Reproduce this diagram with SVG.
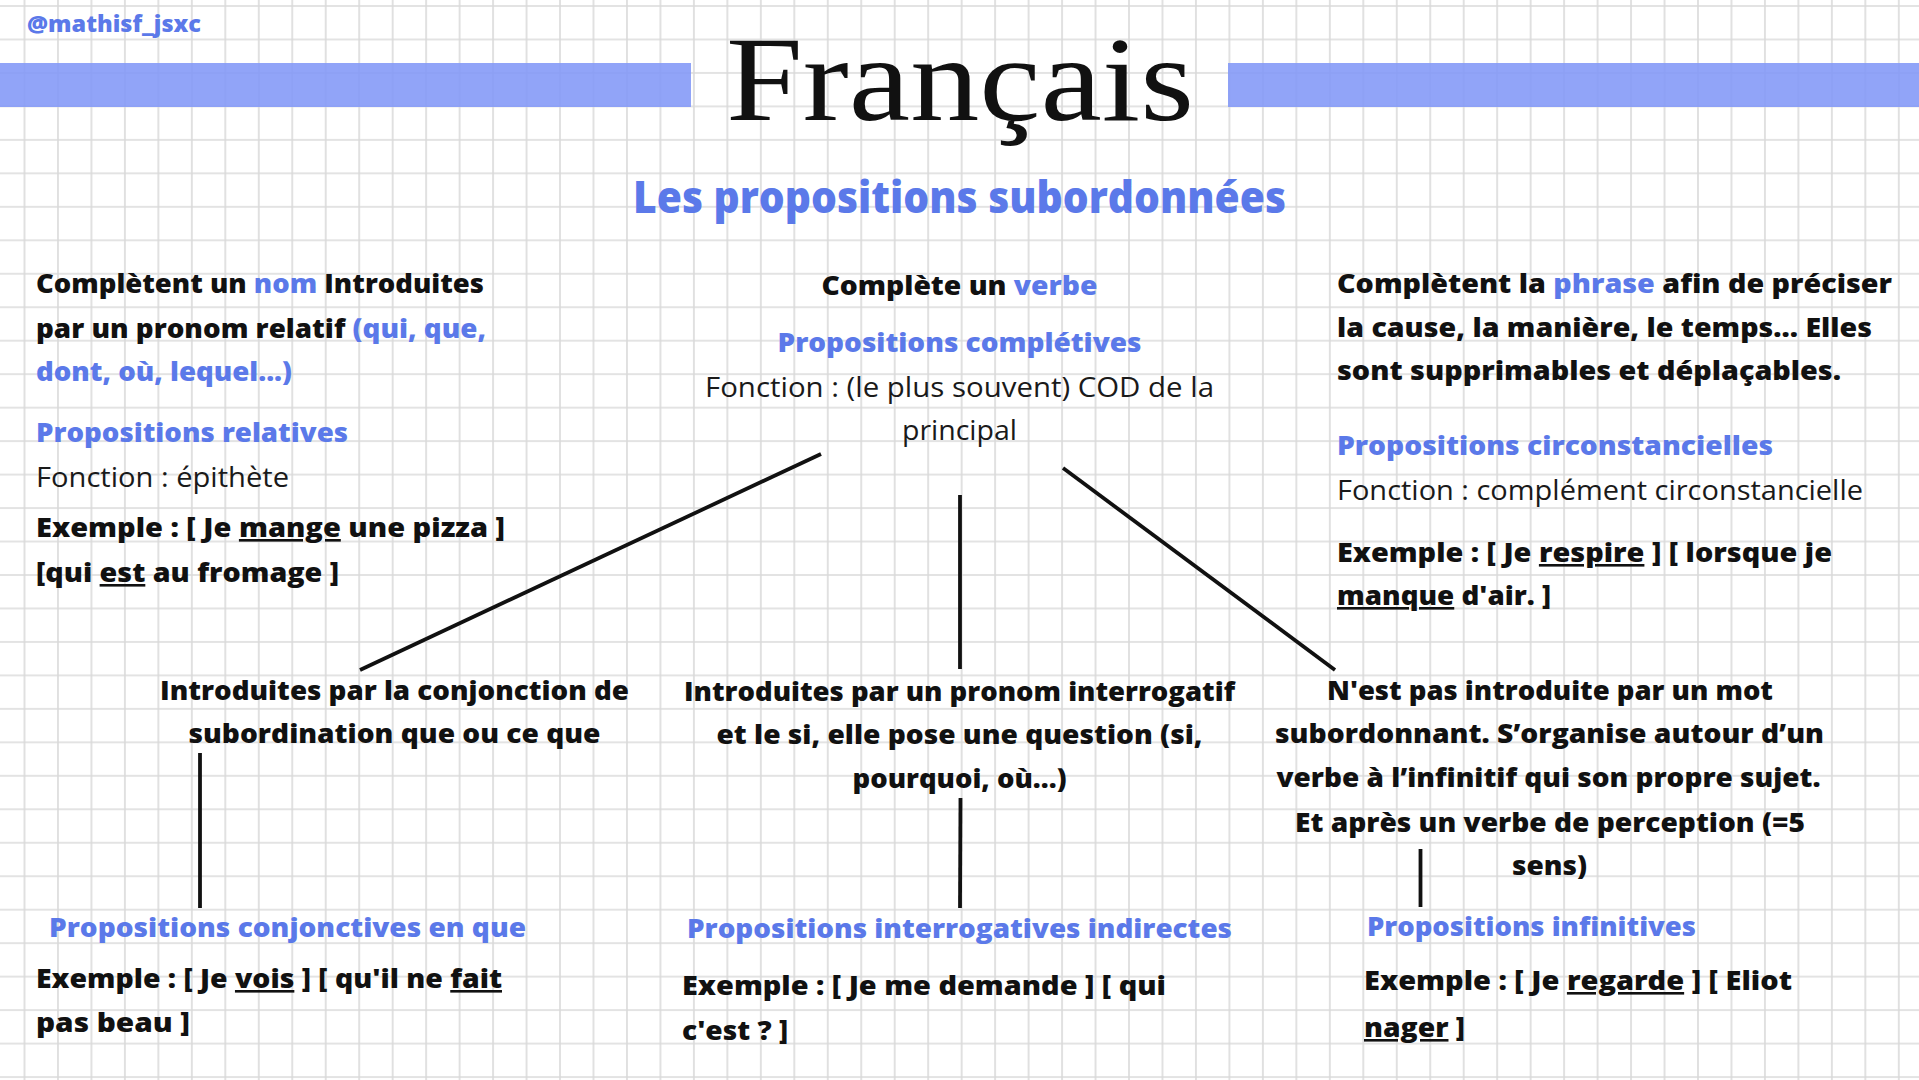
<svg xmlns="http://www.w3.org/2000/svg" width="1919" height="1080" viewBox="0 0 1919 1080">
<style>
.b{font-family:"Open Sans","Lato",sans-serif;font-weight:800;font-size:26px;fill:#111}
.lt{font-family:"Open Sans","Lato",sans-serif;font-weight:400;font-size:28px;fill:#1a1a1a}
.bl{fill:#5b79e9}
.c{text-anchor:middle}
.u{text-decoration:underline}
.con{stroke:#111;stroke-width:3.8;stroke-linecap:butt;fill:none}
</style>
<defs>
<pattern id="grid" patternUnits="userSpaceOnUse" x="7.77" y="-10.73" width="33.47" height="33.47">
<path d="M16.73 0V33.47M0 16.73H33.47" stroke="#dadada" stroke-width="1.6" fill="none"/>
</pattern>
</defs>
<rect width="1919" height="1080" fill="#fff"/>
<rect width="1919" height="1080" fill="url(#grid)"/>

<g id="header">
<rect x="0" y="63" width="691" height="44" fill="#8297f7" opacity="0.88"/>
<rect x="1228" y="63" width="691" height="44" fill="#8297f7" opacity="0.88"/>
<text x="27" y="32" class="b bl" style="font-size:22px" textLength="174" lengthAdjust="spacingAndGlyphs">@mathisf_jsxc</text>
<text x="726" y="120" style="font-family:'Liberation Serif','Times New Roman',serif;font-size:121px;fill:#111" textLength="468" lengthAdjust="spacingAndGlyphs">Français</text>
<text x="633" y="213" class="b bl" style="font-size:44px" textLength="653" lengthAdjust="spacingAndGlyphs">Les propositions subordonnées</text>
</g>

<g id="relatives">
<text x="36" y="293" class="b" textLength="448" lengthAdjust="spacingAndGlyphs">Complètent un <tspan class="bl">nom</tspan> Introduites</text>
<text x="36" y="338" class="b" textLength="450" lengthAdjust="spacingAndGlyphs">par un pronom relatif <tspan class="bl">(qui, que,</tspan></text>
<text x="36" y="381" class="b bl" textLength="256" lengthAdjust="spacingAndGlyphs">dont, où, lequel...)</text>
<text x="36" y="442" class="b bl" textLength="312" lengthAdjust="spacingAndGlyphs">Propositions relatives</text>
<text x="36" y="487" class="lt" textLength="253" lengthAdjust="spacingAndGlyphs">Fonction : épithète</text>
<text x="36" y="537" class="b" textLength="469" lengthAdjust="spacingAndGlyphs">Exemple : [ Je <tspan class="u">mange</tspan> une pizza ]</text>
<text x="36" y="582" class="b" textLength="303" lengthAdjust="spacingAndGlyphs">[qui <tspan class="u">est</tspan> au fromage ]</text>
</g>

<g id="completives">
<text x="959.5" y="295" class="b c" textLength="276" lengthAdjust="spacingAndGlyphs">Complète un <tspan class="bl">verbe</tspan></text>
<text x="959.5" y="352" class="b bl c" textLength="364" lengthAdjust="spacingAndGlyphs">Propositions complétives</text>
<text x="959.5" y="397" class="lt c" textLength="509" lengthAdjust="spacingAndGlyphs">Fonction : (le plus souvent) COD de la</text>
<text x="959.5" y="440" class="lt c" textLength="115" lengthAdjust="spacingAndGlyphs">principal</text>
</g>

<g id="circonstancielles">
<text x="1337" y="293" class="b" textLength="555" lengthAdjust="spacingAndGlyphs">Complètent la <tspan class="bl">phrase</tspan> afin de préciser</text>
<text x="1337" y="337" class="b" textLength="535" lengthAdjust="spacingAndGlyphs">la cause, la manière, le temps... Elles</text>
<text x="1337" y="380" class="b" textLength="504" lengthAdjust="spacingAndGlyphs">sont supprimables et déplaçables.</text>
<text x="1337" y="455" class="b bl" textLength="436" lengthAdjust="spacingAndGlyphs">Propositions circonstancielles</text>
<text x="1337" y="500" class="lt" textLength="526" lengthAdjust="spacingAndGlyphs">Fonction : complément circonstancielle</text>
<text x="1337" y="562" class="b" textLength="495" lengthAdjust="spacingAndGlyphs">Exemple : [ Je <tspan class="u">respire</tspan> ] [ lorsque je</text>
<text x="1337" y="605" class="b" textLength="214" lengthAdjust="spacingAndGlyphs"><tspan class="u">manque</tspan> d'air. ]</text>
</g>

<g id="conjonctives-intro">
<text x="394.5" y="700" class="b c" textLength="469" lengthAdjust="spacingAndGlyphs">Introduites par la conjonction de</text>
<text x="394.5" y="743" class="b c" textLength="412" lengthAdjust="spacingAndGlyphs">subordination que ou ce que</text>
</g>

<g id="interrogatives-intro">
<text x="959.5" y="701" class="b c" textLength="551" lengthAdjust="spacingAndGlyphs">Introduites par un pronom interrogatif</text>
<text x="959.5" y="744" class="b c" textLength="486" lengthAdjust="spacingAndGlyphs">et le si, elle pose une question (si,</text>
<text x="959.5" y="788" class="b c" textLength="214" lengthAdjust="spacingAndGlyphs">pourquoi, où...)</text>
</g>

<g id="infinitives-intro">
<text x="1550" y="700" class="b c" textLength="446" lengthAdjust="spacingAndGlyphs">N'est pas introduite par un mot</text>
<text x="1549.5" y="743" class="b c" textLength="549" lengthAdjust="spacingAndGlyphs">subordonnant. S’organise autour d’un</text>
<text x="1548.5" y="787" class="b c" textLength="544" lengthAdjust="spacingAndGlyphs">verbe à l’infinitif qui son propre sujet.</text>
<text x="1550" y="832" class="b c" textLength="510" lengthAdjust="spacingAndGlyphs">Et après un verbe de perception (=5</text>
<text x="1549.5" y="875" class="b c" textLength="75" lengthAdjust="spacingAndGlyphs">sens)</text>
</g>

<g id="conjonctives">
<text x="49" y="937" class="b bl" textLength="477" lengthAdjust="spacingAndGlyphs">Propositions conjonctives en que</text>
<text x="36" y="988" class="b" textLength="466" lengthAdjust="spacingAndGlyphs">Exemple : [ Je <tspan class="u">vois</tspan> ] [ qu'il ne <tspan class="u">fait</tspan></text>
<text x="36" y="1032" class="b" textLength="154" lengthAdjust="spacingAndGlyphs">pas beau ]</text>
</g>

<g id="interrogatives">
<text x="687" y="938" class="b bl" textLength="545" lengthAdjust="spacingAndGlyphs">Propositions interrogatives indirectes</text>
<text x="682" y="995" class="b" textLength="484" lengthAdjust="spacingAndGlyphs">Exemple : [ Je me demande ] [ qui</text>
<text x="682" y="1040" class="b" textLength="106" lengthAdjust="spacingAndGlyphs">c'est ? ]</text>
</g>

<g id="infinitives">
<text x="1367" y="936" class="b bl" textLength="329" lengthAdjust="spacingAndGlyphs">Propositions infinitives</text>
<text x="1364" y="990" class="b" textLength="428" lengthAdjust="spacingAndGlyphs">Exemple : [ Je <tspan class="u">regarde</tspan> ] [ Eliot</text>
<text x="1364" y="1037" class="b" textLength="101" lengthAdjust="spacingAndGlyphs"><tspan class="u">nager</tspan> ]</text>
</g>

<g id="connectors" class="con">
<line x1="821" y1="454" x2="360" y2="670"/>
<line x1="960" y1="495" x2="960" y2="669"/>
<line x1="1063" y1="468" x2="1335" y2="670"/>
<line x1="200" y1="753" x2="200" y2="908"/>
<line x1="960.5" y1="798" x2="960" y2="908"/>
<line x1="1420.5" y1="849" x2="1420.5" y2="907"/>
</g>
</svg>
